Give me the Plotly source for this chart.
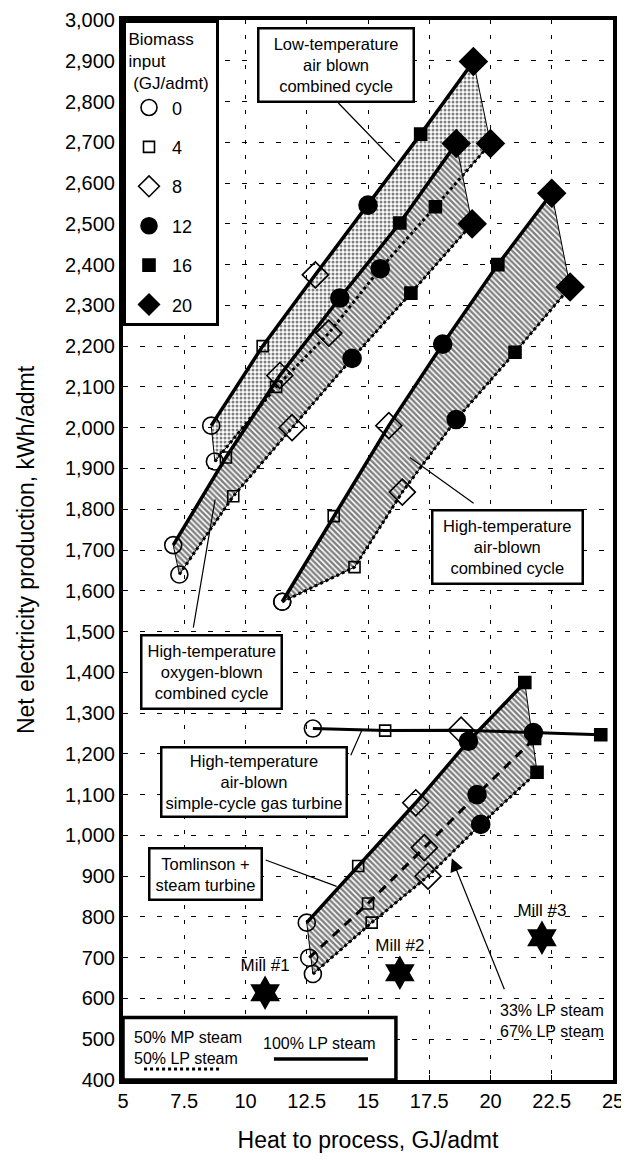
import plotly.graph_objects as go

# ---------------- data ----------------
biomass = [0, 4, 8, 12, 16, 20]

# Low-temperature air blown combined cycle
lt_lp_x = [8.6, 10.7, 12.85, 15.0, 17.15, 19.3]
lt_lp_y = [2005, 2200, 2375, 2546, 2720, 2898]
lt_mp_x = [8.75, 11.25, 13.4, 15.5, 17.75, 20.0]
lt_mp_y = [1917, 2100, 2232, 2390, 2542, 2697]

# High-temperature oxygen-blown combined cycle
ox_lp_x = [7.05, 9.2, 11.4, 13.85, 16.3, 18.6]
ox_lp_y = [1712, 1927, 2128, 2318, 2502, 2697]
ox_mp_x = [7.3, 9.5, 11.9, 14.35, 16.75, 19.25]
ox_mp_y = [1640, 1832, 2000, 2170, 2330, 2500]

# High-temperature air-blown combined cycle
ha_lp_x = [11.5, 13.6, 15.85, 18.05, 20.3, 22.5]
ha_lp_y = [1573, 1783, 2005, 2205, 2400, 2575]
ha_mp_x = [11.5, 14.45, 16.4, 18.6, 21.0, 23.25]
ha_mp_y = [1573, 1658, 1842, 2020, 2185, 2345]

# High-temperature air-blown simple-cycle gas turbine
gt_x = [12.75, 15.7, 18.8, 21.75, 24.5]
gt_y = [1262, 1257, 1258, 1252, 1247]

# Tomlinson + steam turbine
tm_lp_x = [12.5, 14.6, 16.95, 19.1, 21.4]
tm_lp_y = [786, 925, 1080, 1231, 1375]
tm_mid_x = [12.6, 15.0, 17.3, 19.45, 21.8]
tm_mid_y = [700, 833, 970, 1100, 1238]
tm_mp_x = [12.75, 15.15, 17.45, 19.6, 21.9]
tm_mp_y = [660, 786, 900, 1027, 1155]

# Mills
mill_names = ["Mill #1", "Mill #2", "Mill #3"]
mill_x = [10.8, 16.3, 22.1]
mill_y = [614, 663, 749]

# ---------------- styles ----------------
FONT = "Liberation Sans, Arial, Helvetica, sans-serif"
sym_open = {0: ("circle-open", 17), 4: ("square-open", 11), 8: ("diamond-open", 20),
            12: ("circle", 18), 16: ("square", 12), 20: ("diamond", 21)}

STIPPLE = dict(shape=".", size=4, solidity=0.45, fgcolor="black", bgcolor="white")
HATCH = dict(shape="\\", size=4, solidity=0.6, fgcolor="black", bgcolor="white")

fig = go.Figure()


def polygon(upx, upy, lox, loy, pattern):
    xs = list(upx) + list(reversed(lox)) + [upx[0]]
    ys = list(upy) + list(reversed(loy)) + [upy[0]]
    fig.add_trace(go.Scatter(x=xs, y=ys, mode="lines", fill="toself",
                             fillcolor="white", fillpattern=pattern,
                             line=dict(color="black", width=1),
                             showlegend=False, hoverinfo="skip"))


def line(xs, ys, dash="solid", width=3.5):
    fig.add_trace(go.Scatter(x=xs, y=ys, mode="lines",
                             line=dict(color="black", width=width, dash=dash),
                             showlegend=False, hoverinfo="skip"))


DOT = "3px,3px"
LDASH = "9px,7px"

# low-temperature (stipple)
polygon(lt_lp_x, lt_lp_y, lt_mp_x, lt_mp_y, STIPPLE)
line(lt_lp_x, lt_lp_y)
# oxygen-blown (hatched)
polygon(ox_lp_x, ox_lp_y, ox_mp_x, ox_mp_y, HATCH)
line(ox_lp_x, ox_lp_y)
line(ox_mp_x, ox_mp_y, DOT, 3)
line(lt_mp_x, lt_mp_y, DOT, 3)
# high-temperature air-blown CC
polygon(ha_lp_x, ha_lp_y, ha_mp_x, ha_mp_y, HATCH)
line(ha_lp_x, ha_lp_y)
line(ha_mp_x, ha_mp_y, DOT, 3)
# Tomlinson
polygon(tm_lp_x, tm_lp_y, tm_mp_x, tm_mp_y, HATCH)
line(tm_lp_x, tm_lp_y)
line(tm_mid_x, tm_mid_y, LDASH, 3)
line(tm_mp_x, tm_mp_y, DOT, 3)
# gas turbine
line(gt_x, gt_y, "solid", 3)

# markers grouped by biomass input
series = [(lt_lp_x, lt_lp_y), (lt_mp_x, lt_mp_y), (ox_lp_x, ox_lp_y), (ox_mp_x, ox_mp_y),
          (ha_lp_x, ha_lp_y), (ha_mp_x, ha_mp_y), (gt_x, gt_y),
          (tm_lp_x, tm_lp_y), (tm_mid_x, tm_mid_y), (tm_mp_x, tm_mp_y)]
for i, b in enumerate(biomass):
    xs, ys = [], []
    for sx, sy in series:
        if i < len(sx):
            xs.append(sx[i])
            ys.append(sy[i])
    sym, size = sym_open[b]
    fig.add_trace(go.Scatter(
        x=xs, y=ys, mode="markers", name=str(b), legendgroup=str(b),
        marker=dict(symbol=sym, size=size, color="black",
                    line=dict(color="black", width=1.6)),
        hoverinfo="skip"))

# mills
fig.add_trace(go.Scatter(x=mill_x, y=mill_y, mode="markers+text", text=mill_names,
                         textposition="top center",
                         textfont=dict(family=FONT, size=17, color="black"),
                         marker=dict(symbol="hexagram", size=26, color="black"),
                         showlegend=False, hoverinfo="skip"))

# ---------------- annotations ----------------
ann = []


def box(text, x, y, size=16.5, pad=5):
    ann.append(dict(x=x, y=y, xref="x", yref="y", text=text, showarrow=False,
                    font=dict(family=FONT, size=size, color="black"),
                    bordercolor="black", borderwidth=2.5, borderpad=pad,
                    bgcolor="white", xanchor="center", yanchor="middle", align="center"))


def arrow(x0, y0, x1, y1, head=0):
    ann.append(dict(x=x1, y=y1, ax=x0, ay=y0, xref="x", yref="y", axref="x", ayref="y",
                    text="", showarrow=True, arrowhead=head, arrowsize=2.2 if head else 1,
                    arrowwidth=1.2, arrowcolor="black"))


arrow(13.73, 2800, 16.1, 2653)
arrow(7.86, 1506, 8.76, 1824)
arrow(19.37, 1812, 16.71, 1927)
arrow(14.27, 1193, 14.75, 1258)
arrow(10.76, 941, 13.72, 875)
arrow(20.59, 619, 18.42, 944, head=2)

box("&nbsp;&nbsp;Low-temperature&nbsp;&nbsp;<br>air blown<br>combined cycle", 13.69, 2889)
box("High-temperature<br>oxygen-blown<br>combined cycle", 8.61, 1400)
box("&nbsp;High-temperature&nbsp;<br>air-blown<br>combined cycle", 20.71, 1708)
box("High-temperature<br>air-blown<br>simple-cycle gas turbine", 10.33, 1130, pad=3)
box("&nbsp;Tomlinson +&nbsp;<br>steam turbine", 8.35, 905)
ann.append(dict(x=22.5, y=545, xref="x", yref="y", text="33% LP steam<br>67% LP steam",
                showarrow=False, font=dict(family=FONT, size=16, color="black"),
                xanchor="center", yanchor="middle", align="left"))

# bottom line-style legend
ann.append(dict(x=0.133, y=0.0305, xref="paper", yref="paper",
                text="50% MP steam<br>50% LP steam", showarrow=False,
                font=dict(family=FONT, size=16, color="black"), align="left",
                xanchor="center", yanchor="middle"))
ann.append(dict(x=0.402, y=0.0348, xref="paper", yref="paper",
                text="100% LP steam", showarrow=False,
                font=dict(family=FONT, size=16, color="black"),
                xanchor="center", yanchor="middle"))

shapes = [
    dict(type="rect", xref="paper", yref="paper", x0=0, x1=0.557, y0=0, y1=0.059,
         line=dict(color="black", width=3.5), fillcolor="white", layer="above"),
    dict(type="line", xref="paper", yref="paper", x0=0.043, x1=0.202, y0=0.0103, y1=0.0103,
         line=dict(color="black", width=3, dash=DOT), layer="above"),
    dict(type="line", xref="paper", yref="paper", x0=0.308, x1=0.5, y0=0.0197, y1=0.0197,
         line=dict(color="black", width=3.5), layer="above"),
]

# page body has an 8px default margin: compensate so the plot lands where the reference has it
fig.update_layout(
    width=621, height=1155,
    margin=dict(l=115, r=16, t=12, b=83, autoexpand=False),
    paper_bgcolor="white", plot_bgcolor="white",
    font=dict(family=FONT, color="black"),
    annotations=ann, shapes=shapes,
    legend=dict(x=0, y=1, xanchor="left", yanchor="top",
                bgcolor="white", bordercolor="black", borderwidth=3,
                font=dict(family=FONT, size=18, color="black"),
                title=dict(text="Biomass<br>input<br>&nbsp;(GJ/admt)&nbsp;", side="top center",
                           font=dict(family=FONT, size=17)),
                tracegroupgap=13, itemwidth=36),
    xaxis=dict(range=[5, 25], tick0=5, dtick=2.5, showgrid=True, gridcolor="black",
               griddash="4px,11px", gridwidth=1, zeroline=False,
               showline=True, linewidth=4, linecolor="black", mirror=True,
               ticks="inside", ticklen=5, tickcolor="black", ticklabeloverflow="allow",
               tickfont=dict(family=FONT, size=20),
               title=dict(text="Heat to process, GJ/admt", standoff=22,
                          font=dict(family=FONT, size=23))),
    yaxis=dict(range=[400, 3000], tick0=400, dtick=100, tickformat=",", showgrid=True,
               gridcolor="black", griddash="5px,12px", gridwidth=1, zeroline=False,
               showline=True, linewidth=4, linecolor="black", mirror=True,
               ticks="inside", ticklen=5, tickcolor="black", ticklabeloverflow="allow",
               tickfont=dict(family=FONT, size=20),
               title=dict(text="Net electricity production, kWh/admt", standoff=25,
                          font=dict(family=FONT, size=23))),
)

fig.write_html("out.html")
